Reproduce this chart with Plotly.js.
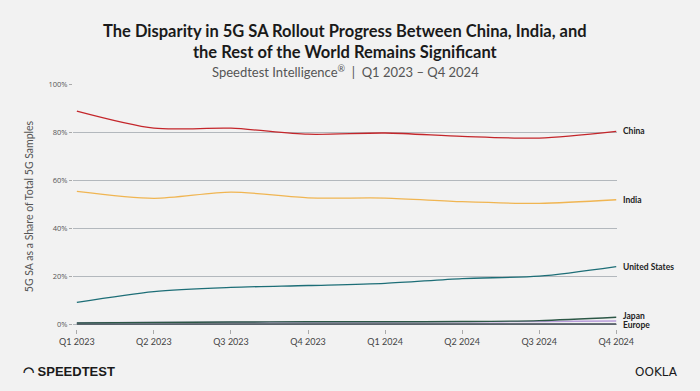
<!DOCTYPE html>
<html>
<head>
<meta charset="utf-8">
<script src="https://cdn.plot.ly/plotly-3.0.1.min.js"></script>
<style>
html,body{margin:0;padding:0;background:#f2f2f2;}
#chart{width:700px;height:391px;}
</style>
</head>
<body>
<div id="chart"></div>
<script>
var quarters = ["Q1 2023","Q2 2023","Q3 2023","Q4 2023","Q1 2024","Q2 2024","Q3 2024","Q4 2024"];
var china = [88.7, 81.6, 81.6, 79.1, 79.6, 78.2, 77.5, 80.3];
var india = [55.3, 52.4, 55.0, 52.6, 52.5, 51.0, 50.3, 51.8];
var unitedStates = [9.1, 13.6, 15.3, 16.1, 17.0, 19.0, 20.0, 24.0];
var japan = [0.5, 0.7, 0.9, 1.0, 1.0, 1.1, 1.5, 2.9];
var europe = [0.6, 0.7, 0.8, 0.9, 0.9, 1.0, 1.1, 1.3];
var other = [0.1, 0.1, 0.1, 0.1, 0.1, 0.1, 0.1, 0.1];
var yTicks = [0, 20, 40, 60, 80, 100];
var yTickText = ["0%", "20%", "40%", "60%", "80%", "100%"];

var idx = quarters.map(function(q, i){ return i; });
function series(name, y, color, width){
  return {x: idx, y: y, name: name, mode: "lines", type: "scatter",
    line: {color: color, width: width || 1.3, shape: "spline", smoothing: 0.8},
    hoverinfo: "skip", showlegend: false};
}
var data = [
  series("Other", other, "#3d4752", 1.6),
  series("Europe", europe, "#b99ddb", 1.4),
  series("Japan", japan, "#2c5746", 1.4),
  series("United States", unitedStates, "#1d6e77"),
  series("India", india, "#f0b552"),
  series("China", china, "#c4262b")
];

var labels = [
  {t: "China", y: china[7]},
  {t: "India", y: india[7]},
  {t: "United States", y: unitedStates[7]},
  {t: "Japan", y: japan[7] + 0.6},
  {t: "Europe", y: europe[7] - 1.6}
];
var annotations = labels.map(function(l){
  return {x: 7, y: l.y, xref: "x", yref: "y", text: "<b>" + l.t + "</b>", showarrow: false,
    xanchor: "left", xshift: 5, font: {family: "Lato, 'Open Sans', sans-serif", size: 8.5, color: "#222"}};
});
annotations.push({
  xref: "paper", yref: "paper", x: -0.095, y: 0, xanchor: "left", yanchor: "top", yshift: -33,
  showarrow: false, text: "<b>◠ SPEEDTEST</b>",
  font: {family: "'Liberation Sans', Arial, sans-serif", size: 13, color: "#1a1a1a"}
});
annotations.push({
  xref: "paper", yref: "paper", x: 1.115, y: 0, xanchor: "right", yanchor: "top", yshift: -34,
  showarrow: false, text: "OOKLA",
  font: {family: "'DejaVu Sans', sans-serif", size: 12, color: "#1a1a1a"}
});
annotations.push({
  xref: "paper", yref: "paper", x: 0.5, y: 1, xanchor: "center", yanchor: "top",
  yshift: 65, showarrow: false,
  text: "<b>The Disparity in 5G SA Rollout Progress Between China, India, and<br>the Rest of the World Remains Significant</b>",
  font: {family: "Lato, sans-serif", size: 16.5, color: "#1a1a1a"}
});
annotations.push({
  xref: "paper", yref: "paper", x: 0.5, y: 1, xanchor: "center", yanchor: "top",
  yshift: 23, showarrow: false,
  text: "Speedtest Intelligence<sup>®</sup>  |  Q1 2023 – Q4 2024",
  font: {family: "Lato, sans-serif", size: 13, color: "#555"}
});

var layout = {
  width: 700, height: 391,
  paper_bgcolor: "#f2f2f2", plot_bgcolor: "#f2f2f2",
  margin: {l: 73, r: 83, t: 84, b: 62},
  xaxis: {
    range: [-0.05, 7.01], tickvals: idx, ticktext: quarters,
    showgrid: false, zeroline: false, showline: false,
    ticks: "outside", ticklen: 4, tickcolor: "#aaa", tickwidth: 1,
    tickfont: {family: "Lato, 'Open Sans', sans-serif", size: 9, color: "#444"},
    fixedrange: true
  },
  yaxis: {
    range: [-2, 100], tickvals: yTicks, ticktext: yTickText,
    showgrid: true, gridcolor: "#b3b8bd", gridwidth: 1, zeroline: false,
    tickfont: {family: "'Open Sans', sans-serif", size: 7.5, color: "#555"},
    ticks: "outside", ticklen: 3, tickcolor: "#aaa",
    title: {text: "5G SA as a Share of Total 5G Samples", standoff: 12,
      font: {family: "Lato, 'Open Sans', sans-serif", size: 10.5, color: "#555"}},
    fixedrange: true
  },
  annotations: annotations,
  showlegend: false
};
Plotly.newPlot("chart", data, layout, {displayModeBar: false, staticPlot: true});
</script>
</body>
</html>
